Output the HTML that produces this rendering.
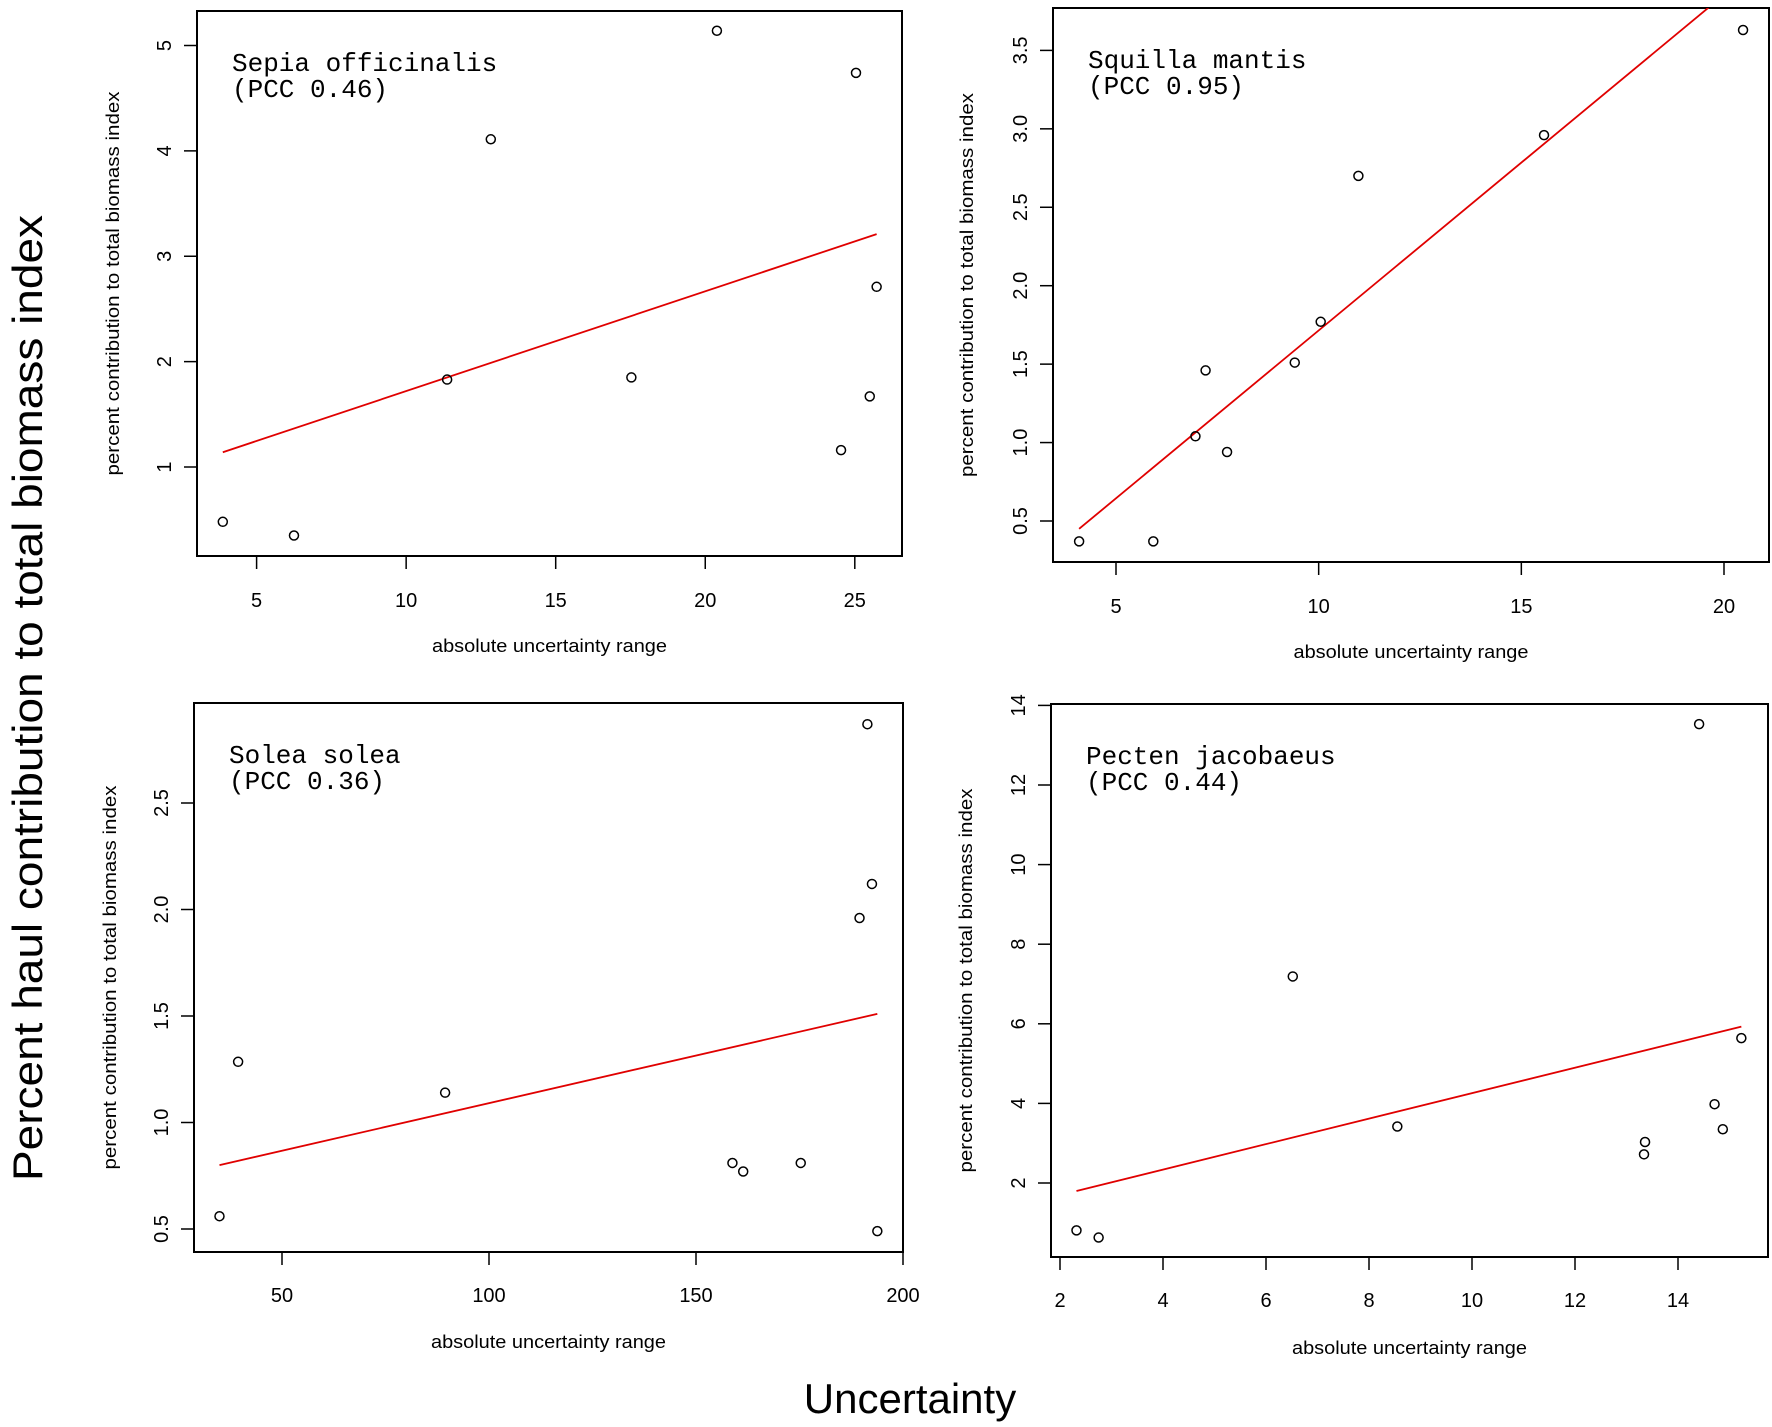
<!DOCTYPE html>
<html><head><meta charset="utf-8"><style>
html,body{margin:0;padding:0;background:#fff;}
svg{display:block;font-family:"Liberation Sans",Arial,sans-serif;}
.mono{font-family:"Liberation Mono","DejaVu Sans Mono",monospace;}
</style></head><body>
<svg id="fig" width="1772" height="1427" viewBox="0 0 1772 1427" xmlns="http://www.w3.org/2000/svg">
<text x="42" y="698" font-size="42" text-anchor="middle" transform="rotate(-90 42 698)" textLength="966" lengthAdjust="spacingAndGlyphs">Percent haul contribution to total biomass index</text>
<text x="910" y="1413" font-size="42" text-anchor="middle">Uncertainty</text>
</svg>
<script>
// Sepia officinalis
const sepiaX = [3.87, 6.25, 11.37, 12.83, 17.53, 20.39, 24.54, 25.04, 25.5, 25.73];
const sepiaY = [0.48, 0.35, 1.83, 4.11, 1.85, 5.14, 1.16, 4.74, 1.67, 2.71];
const sepiaLineX = [3.87, 25.73];
const sepiaLineY = [1.14, 3.21];
const sepiaXTicks = [5, 10, 15, 20, 25];
const sepiaYTicks = [1, 2, 3, 4, 5];
const sepiaYTickLabels = ["1", "2", "3", "4", "5"];
// Squilla mantis
const squillaX = [4.09, 5.92, 6.96, 7.21, 7.74, 9.41, 10.05, 10.98, 15.56, 20.47];
const squillaY = [0.37, 0.37, 1.04, 1.46, 0.94, 1.51, 1.77, 2.70, 2.96, 3.63];
const squillaLineX = [4.09, 20.47];
const squillaLineY = [0.45, 3.955];
const squillaXTicks = [5, 10, 15, 20];
const squillaYTicks = [0.5, 1.0, 1.5, 2.0, 2.5, 3.0, 3.5];
const squillaYTickLabels = ["0.5", "1.0", "1.5", "2.0", "2.5", "3.0", "3.5"];
// Solea solea
const soleaX = [34.9, 39.4, 89.4, 158.8, 161.4, 175.3, 189.5, 191.4, 192.5, 193.8];
const soleaY = [0.56, 1.285, 1.14, 0.81, 0.77, 0.81, 1.96, 2.87, 2.12, 0.49];
const soleaLineX = [34.9, 193.8];
const soleaLineY = [0.80, 1.51];
const soleaXTicks = [50, 100, 150, 200];
const soleaYTicks = [0.5, 1.0, 1.5, 2.0, 2.5];
const soleaYTickLabels = ["0.5", "1.0", "1.5", "2.0", "2.5"];
// Pecten jacobaeus
const pectenX = [2.32, 2.75, 6.52, 8.55, 13.34, 13.36, 14.41, 14.71, 14.87, 15.23];
const pectenY = [0.81, 0.63, 7.19, 3.42, 2.72, 3.03, 13.53, 3.98, 3.35, 5.64];
const pectenLineX = [2.32, 15.23];
const pectenLineY = [1.80, 5.93];
const pectenXTicks = [2, 4, 6, 8, 10, 12, 14];
const pectenYTicks = [2, 4, 6, 8, 10, 12, 14];
const pectenYTickLabels = ["2", "4", "6", "8", "10", "12", "14"];

const NS = "http://www.w3.org/2000/svg";
const svg = document.getElementById("fig");
function mk(tag, attrs, parent) {
  const e = document.createElementNS(NS, tag);
  for (const k in attrs) e.setAttribute(k, attrs[k]);
  (parent || svg).appendChild(e);
  return e;
}

function panel(cfg) {
  const g = mk("g", {});
  
  
  const sx = v => cfg.xa[1] + (v - cfg.xa[0]) * (cfg.xb[1] - cfg.xa[1]) / (cfg.xb[0] - cfg.xa[0]);
  const sy = v => cfg.ya[1] + (v - cfg.ya[0]) * (cfg.yb[1] - cfg.ya[1]) / (cfg.yb[0] - cfg.ya[0]);
  const b = cfg.box;
  const frame = mk("rect", {x: b[0], y: b[1], width: b[2] - b[0], height: b[3] - b[1], fill: "none", stroke: "#000", "stroke-width": 2}, g);
  
  
  const cp = mk("clipPath", {id: cfg.id + "-clip"}, g);
  mk("rect", {x: b[0], y: b[1], width: b[2] - b[0], height: b[3] - b[1]}, cp);
  const xt = cfg.xTicks;
  const xAxis = mk("g", {}, g);
  
  
  mk("line", {x1: sx(xt[0]), x2: sx(xt[xt.length - 1]), y1: b[3], y2: b[3], stroke: "#000", "stroke-width": 1.5}, xAxis);
  xt.forEach(t => {
    mk("line", {x1: sx(t), x2: sx(t), y1: b[3], y2: b[3] + 13, stroke: "#000", "stroke-width": 1.5}, xAxis);
    const lab = mk("text", {x: sx(t), y: cfg.xTickY, "font-size": 20, "text-anchor": "middle"}, xAxis);
    lab.textContent = String(t);
    
    
  });
  const yt = cfg.yTicks;
  const yAxis = mk("g", {}, g);
  
  
  mk("line", {x1: b[0], x2: b[0], y1: sy(yt[0]), y2: sy(yt[yt.length - 1]), stroke: "#000", "stroke-width": 1.5}, yAxis);
  yt.forEach((t, i) => {
    mk("line", {x1: b[0], x2: b[0] - 13, y1: sy(t), y2: sy(t), stroke: "#000", "stroke-width": 1.5}, yAxis);
    const lx = b[0] - 26;
    const lab = mk("text", {x: lx, y: sy(t), "font-size": 20, "text-anchor": "middle", transform: "rotate(-90 " + lx + " " + sy(t) + ")"}, yAxis);
    lab.textContent = cfg.yTickLabels[i];
    
    
  });
  const cy = (b[1] + b[3]) / 2;
  const yl = mk("text", {x: cfg.yLabelX, y: cy, "font-size": 18, "text-anchor": "middle", transform: "rotate(-90 " + cfg.yLabelX + " " + cy + ")", textLength: 384, lengthAdjust: "spacingAndGlyphs"}, g);
  yl.textContent = "percent contribution to total biomass index";
  
  
  const xl = mk("text", {x: (b[0] + b[2]) / 2, y: cfg.xLabelY, "font-size": 18, "text-anchor": "middle", textLength: 235, lengthAdjust: "spacingAndGlyphs"}, g);
  xl.textContent = "absolute uncertainty range";
  
  
  const t1 = mk("text", {x: b[0] + 35, y: b[1] + 60, "font-size": 26, "class": "mono"}, g);
  t1.textContent = cfg.title;
  
  
  const t2 = mk("text", {x: b[0] + 35, y: b[1] + 86, "font-size": 26, "class": "mono"}, g);
  t2.textContent = cfg.pcc;
  
  
  const ln = mk("line", {x1: sx(cfg.lineX[0]), y1: sy(cfg.lineY[0]), x2: sx(cfg.lineX[1]), y2: sy(cfg.lineY[1]), stroke: "#e00000", "stroke-width": 1.8, "clip-path": "url(#" + cfg.id + "-clip)"}, g);
  
  
  cfg.xs.forEach((x, i) => {
    const c = mk("circle", {cx: sx(x), cy: sy(cfg.ys[i]), r: 4.5, fill: "none", stroke: "#000", "stroke-width": 1.5}, g);
    
    
  });
}

panel({id: "sepia", box: [197, 11, 902, 556], xa: [5, 256.6], xb: [25, 854.8], ya: [1, 467], yb: [5, 45.5],
  xTicks: sepiaXTicks, yTicks: sepiaYTicks, yTickLabels: sepiaYTickLabels, xs: sepiaX, ys: sepiaY, lineX: sepiaLineX, lineY: sepiaLineY,
  title: "Sepia officinalis", pcc: "(PCC 0.46)", xTickY: 607, xLabelY: 652, yLabelX: 119});
panel({id: "squilla", box: [1053, 8, 1769, 562], xa: [5, 1116], xb: [20, 1724], ya: [0.5, 521], yb: [3.5, 50.4],
  xTicks: squillaXTicks, yTicks: squillaYTicks, yTickLabels: squillaYTickLabels, xs: squillaX, ys: squillaY, lineX: squillaLineX, lineY: squillaLineY,
  title: "Squilla mantis", pcc: "(PCC 0.95)", xTickY: 613, xLabelY: 658, yLabelX: 973});
panel({id: "solea", box: [194, 703, 903, 1252], xa: [50, 282], xb: [200, 903], ya: [0.5, 1229], yb: [2.5, 803],
  xTicks: soleaXTicks, yTicks: soleaYTicks, yTickLabels: soleaYTickLabels, xs: soleaX, ys: soleaY, lineX: soleaLineX, lineY: soleaLineY,
  title: "Solea solea", pcc: "(PCC 0.36)", xTickY: 1302, xLabelY: 1348, yLabelX: 116});
panel({id: "pecten", box: [1051, 704, 1768, 1257], xa: [2, 1060], xb: [14, 1678], ya: [2, 1183], yb: [12, 785],
  xTicks: pectenXTicks, yTicks: pectenYTicks, yTickLabels: pectenYTickLabels, xs: pectenX, ys: pectenY, lineX: pectenLineX, lineY: pectenLineY,
  title: "Pecten jacobaeus", pcc: "(PCC 0.44)", xTickY: 1307, xLabelY: 1354, yLabelX: 972});
</script>
</body></html>
